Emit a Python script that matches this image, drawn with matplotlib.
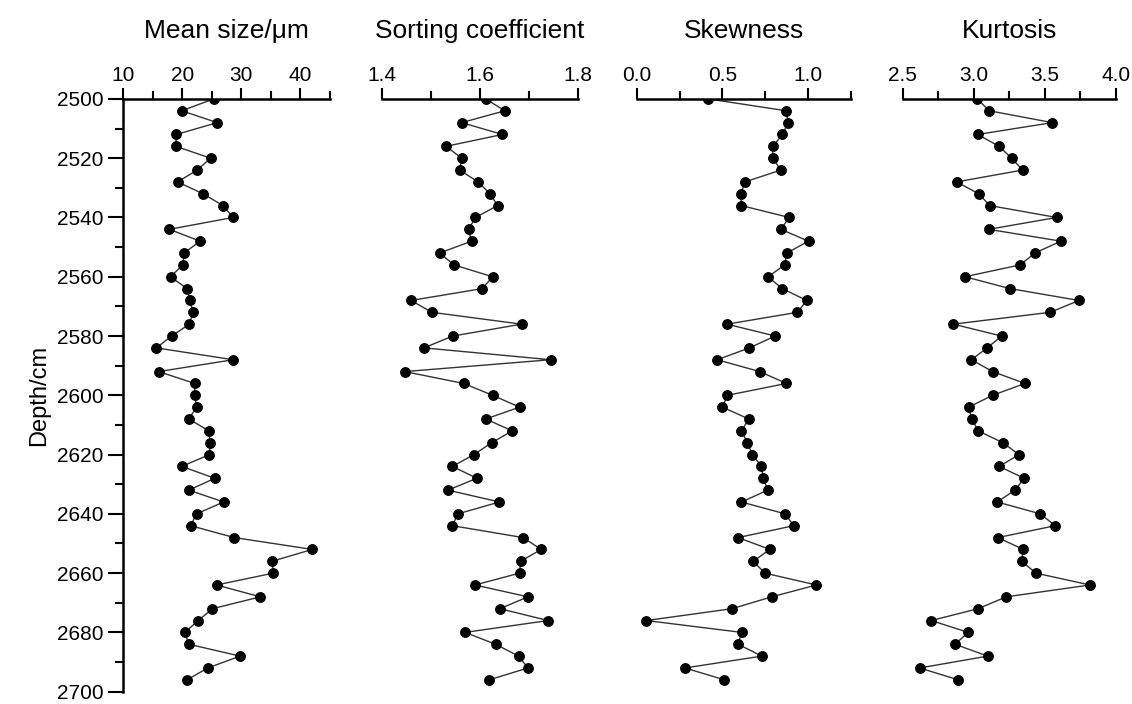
import numpy as np
import matplotlib
matplotlib.use("Agg")
import matplotlib.pyplot as plt
from matplotlib.ticker import MultipleLocator

plt.rcParams["font.family"] = ["Liberation Sans", "DejaVu Sans"]

# depth of each sample, cm (every 4 cm)
depth = np.arange(2500, 2700, 4)

mean_size = [25.3, 19.9, 25.9, 19.0, 18.9, 24.8, 22.5, 19.2, 23.5, 26.9,
             28.6, 17.8, 23.0, 20.3, 20.1, 18.0, 20.8, 21.3, 21.8, 21.2,
             18.2, 15.6, 28.6, 16.0, 22.1, 22.1, 22.4, 21.1, 24.5, 24.7,
             24.6, 19.9, 25.5, 21.1, 27.0, 22.4, 21.4, 28.8, 42.0, 35.2,
             35.4, 25.8, 33.2, 25.1, 22.7, 20.4, 21.1, 29.8, 24.3, 20.8]

sorting = [1.612, 1.651, 1.563, 1.646, 1.531, 1.563, 1.559, 1.596, 1.621, 1.636,
           1.591, 1.577, 1.583, 1.518, 1.547, 1.626, 1.605, 1.460, 1.502, 1.685,
           1.545, 1.486, 1.744, 1.447, 1.567, 1.626, 1.681, 1.612, 1.666, 1.624,
           1.588, 1.544, 1.594, 1.535, 1.640, 1.555, 1.544, 1.688, 1.725, 1.683,
           1.681, 1.590, 1.698, 1.641, 1.739, 1.570, 1.632, 1.679, 1.698, 1.619]

skewness = [0.419, 0.873, 0.885, 0.852, 0.795, 0.795, 0.842, 0.633, 0.608, 0.612,
            0.891, 0.842, 1.004, 0.877, 0.865, 0.768, 0.850, 0.994, 0.939, 0.528,
            0.809, 0.659, 0.470, 0.719, 0.875, 0.530, 0.501, 0.655, 0.612, 0.647,
            0.676, 0.729, 0.740, 0.766, 0.612, 0.867, 0.918, 0.592, 0.778, 0.681,
            0.749, 1.050, 0.789, 0.557, 0.056, 0.614, 0.592, 0.731, 0.282, 0.512]

kurtosis = [3.025, 3.109, 3.552, 3.027, 3.179, 3.266, 3.344, 2.880, 3.034, 3.114,
            3.583, 3.105, 3.613, 3.430, 3.327, 2.938, 3.255, 3.740, 3.538, 2.856,
            3.196, 3.095, 2.983, 3.133, 3.360, 3.133, 2.964, 2.987, 3.032, 3.205,
            3.318, 3.179, 3.355, 3.290, 3.165, 3.468, 3.573, 3.170, 3.348, 3.337,
            3.437, 3.817, 3.229, 3.030, 2.701, 2.962, 2.868, 3.098, 2.620, 2.891]

titles = ["Mean size/μm", "Sorting coefficient", "Skewness", "Kurtosis"]
series = [mean_size, sorting, skewness, kurtosis]
xlims = [(10, 45), (1.4, 1.8), (0.0, 1.25), (2.5, 4.0)]
major = [10, 0.2, 0.5, 0.5]
minor = [5, 0.1, 0.25, 0.25]
fmts = ["{:.0f}", "{:.1f}", "{:.1f}", "{:.1f}"]

# axes boxes in figure fraction: left, width
boxes = [(0.1089, 0.1826), (0.3372, 0.1734), (0.5625, 0.1889), (0.7974, 0.1884)]
bottom, height = 0.0175, 0.842

fig = plt.figure(figsize=(11.32, 7.04), dpi=100, facecolor="white")

for i, (vals, title, xl, mj, mn, fmt, (l, w)) in enumerate(
        zip(series, titles, xlims, major, minor, fmts, boxes)):
    ax = fig.add_axes([l, bottom, w, height])
    ax.plot(vals, depth, "-", color="#333333", lw=1.0, zorder=2)
    ax.plot(vals, depth, "o", color="black", ms=6.8, zorder=3)

    ax.set_xlim(*xl)
    ax.set_ylim(2700, 2500)

    ax.xaxis.tick_top()
    ax.xaxis.set_minor_locator(MultipleLocator(mn))
    ticks = np.arange(xl[0], xl[1] + 1e-9, mj)
    ax.set_xticks(ticks)
    ax.set_xticklabels([fmt.format(t) for t in ticks])
    ax.tick_params(axis="x", which="major", direction="out", length=8,
                   width=1.5, labelsize=15, pad=2)
    ax.tick_params(axis="x", which="minor", direction="out", length=6, width=1.5)

    for s in ["right", "bottom"]:
        ax.spines[s].set_visible(False)
    ax.spines["top"].set_linewidth(1.8)

    if i == 0:
        ax.spines["left"].set_linewidth(1.8)
        ax.yaxis.set_major_locator(MultipleLocator(20))
        ax.yaxis.set_minor_locator(MultipleLocator(10))
        ax.tick_params(axis="y", which="major", direction="out", length=11,
                       width=1.5, labelsize=15, pad=3)
        ax.tick_params(axis="y", which="minor", direction="out", length=6, width=1.5)
        ax.set_ylabel("Depth/cm", fontsize=17, labelpad=5)
    else:
        ax.spines["left"].set_visible(False)
        ax.set_yticks([])

    ax.text(0.5, 1.115, title, transform=ax.transAxes, ha="center",
            va="center", fontsize=19)
    ax.patch.set_alpha(0)

fig.savefig("out.png", dpi=100, facecolor="white")
